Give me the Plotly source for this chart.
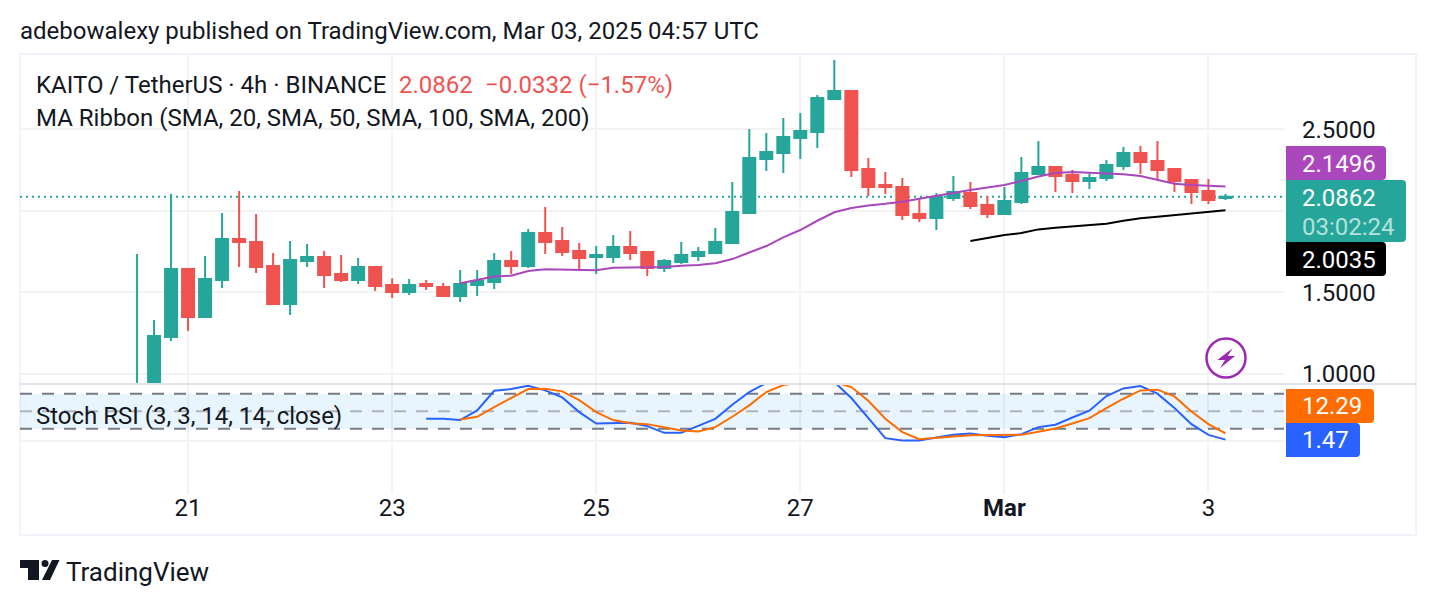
import pandas as pd
import plotly.graph_objects as go

W, H = 1436, 606
ML, MR, MT, MB = 20, 152, 54, 112
FONT = "Roboto"
INK = "#131722"
TEAL = "#26A69A"
RED = "#EF5350"
PURPLE = "#AB47BC"
BLUE = "#2962FF"
ORANGE = "#FF6D00"
GRID = "#F3F3F3"

times = pd.date_range("2025-02-20 12:00", periods=65, freq="4h")
opens = [0.80,0.90,1.226,1.643,1.348,1.575,1.827,1.809,1.661,1.428,1.692,1.717,1.612,1.575,1.655,1.545,1.502,1.551,1.532,1.477,
         1.545,1.563,1.692,1.661,1.864,1.815,1.753,1.717,1.717,1.778,1.747,1.649,1.686,1.722,1.741,1.802,1.987,2.318,2.354,2.447,
         2.484,2.686,2.735,2.256,2.158,2.146,1.980,1.956,2.078,2.109,2.035,1.980,2.054,2.226,2.269,2.220,2.183,2.201,2.275,2.354,
         2.305,2.256,2.189,2.121,2.078]
highs = [1.735,1.330,2.103,1.649,1.722,1.987,2.121,1.980,1.741,1.815,1.796,1.753,1.729,1.710,1.655,1.587,1.581,1.575,1.557,1.637,
         1.637,1.741,1.753,1.888,2.023,1.900,1.802,1.784,1.851,1.876,1.753,1.704,1.809,1.778,1.894,2.177,2.502,2.477,2.569,2.600,
         2.711,2.925,2.741,2.324,2.238,2.201,2.078,2.109,2.213,2.177,2.091,2.146,2.330,2.428,2.275,2.250,2.232,2.312,2.392,2.398,
         2.428,2.256,2.195,2.195,2.103]
lows = [0.75,0.85,1.201,1.262,1.342,1.526,1.655,1.618,1.422,1.361,1.655,1.526,1.563,1.551,1.508,1.465,1.483,1.514,1.471,1.440,
        1.477,1.520,1.612,1.649,1.735,1.722,1.637,1.612,1.680,1.698,1.600,1.624,1.673,1.692,1.741,1.796,1.987,2.244,2.232,2.318,
        2.385,2.686,2.207,2.091,2.103,1.943,1.931,1.882,2.060,2.011,1.956,1.974,2.042,2.220,2.115,2.109,2.134,2.183,2.250,2.226,
        2.189,2.115,2.042,2.042,2.066]
closes = [0.90,1.232,1.643,1.348,1.582,1.827,1.809,1.655,1.428,1.698,1.717,1.606,1.575,1.655,1.538,1.502,1.545,1.538,1.477,1.551,
          1.569,1.692,1.661,1.864,1.809,1.747,1.710,1.729,1.778,1.741,1.649,1.692,1.729,1.747,1.809,1.993,2.324,2.361,2.453,2.490,
          2.692,2.735,2.250,2.146,2.146,1.974,1.956,2.084,2.115,2.029,1.980,2.060,2.232,2.269,2.214,2.183,2.201,2.281,2.354,2.299,
          2.250,2.183,2.115,2.066,2.0862]
sma20 = [1.555,1.578,1.597,1.602,1.631,1.641,1.639,1.633,1.635,1.651,1.653,1.651,1.655,1.663,1.667,1.678,1.704,1.744,1.784,1.837,
         1.882,1.939,1.991,2.017,2.033,2.043,2.056,2.074,2.092,2.113,2.127,2.143,2.158,2.183,2.211,2.232,2.238,2.233,2.227,2.224,
         2.213,2.191,2.166,2.158,2.156,2.1496]
sma50 = [1.815,1.835,1.851,1.864,1.886,1.896,1.905,1.913,1.921,1.939,1.954,1.964,1.974,1.984,1.994,2.0035]
stoch_k = [37.1,37.1,34.9,51.4,85.1,88,93.7,85.7,73.7,48.6,29.1,29.7,30.3,24.6,13.1,13.1,24.6,37.1,61.1,82.9,98.3,100,100,100,100,
           72.6,38.3,4,0,0,5.1,9.7,12,8,5.7,10.9,22.9,26.9,39.4,50.9,76,89.1,93.1,80,55.4,28,9.7,1.47]
stoch_d = [36,40.6,57.2,72.6,88,88.6,84,69.1,48.6,34.9,29.7,28,22.3,17.1,15.4,22.9,40.6,60,82.9,94.9,99,100,100,
           91.4,68,37.1,14.3,2.3,4,6.9,9.1,9.1,8.6,9.7,14.9,20.6,29.1,38.3,55.4,71.4,85.7,86.9,75.4,49.7,28,12.29]
price_ticks = [1.0, 1.5, 2.0, 2.5]
price_tick_text = ["1.0000", "1.5000", "2.0000", "2.5000"]
day_ticks = ["2025-02-21", "2025-02-23", "2025-02-25", "2025-02-27", "2025-03-01", "2025-03-03"]
day_tick_text = ["21", "23", "25", "27", "<b>Mar</b>", "3"]
last_price = 2.0862
stoch_levels = [80, 50, 20]
x_range = ["2025-02-19 08:28", "2025-03-03 17:46"]


def px(x):
    return (x - ML) / (W - ML - MR)


def py(y):
    return 1 - (y - MT) / (H - MT - MB)


def poly(points, close=True):
    d = "M" + " L".join(f"{px(a):.5f},{py(b):.5f}" for a, b in points)
    return d + (" Z" if close else "")


def badge(x0, y0, x1, y1, r=4):
    return (f"M{px(x0):.5f},{py(y0):.5f} L{px(x1-r):.5f},{py(y0):.5f} "
            f"Q{px(x1):.5f},{py(y0):.5f} {px(x1):.5f},{py(y0+r):.5f} "
            f"L{px(x1):.5f},{py(y1-r):.5f} Q{px(x1):.5f},{py(y1):.5f} {px(x1-r):.5f},{py(y1):.5f} "
            f"L{px(x0):.5f},{py(y1):.5f} Z")


fig = go.Figure()
fig.add_trace(go.Candlestick(
    x=times, open=opens, high=highs, low=lows, close=closes,
    increasing=dict(line=dict(color=TEAL, width=2), fillcolor=TEAL),
    decreasing=dict(line=dict(color=RED, width=2), fillcolor=RED),
    whiskerwidth=0, xaxis="x", yaxis="y", showlegend=False,
))
fig.add_trace(go.Scatter(x=times[-len(sma20):], y=sma20, mode="lines",
                         line=dict(color=PURPLE, width=2), xaxis="x", yaxis="y"))
fig.add_trace(go.Scatter(x=times[-len(sma50):], y=sma50, mode="lines",
                         line=dict(color="#000000", width=2), xaxis="x", yaxis="y"))
fig.add_trace(go.Scatter(x=times[-len(stoch_k):], y=stoch_k, mode="lines",
                         line=dict(color=BLUE, width=2), xaxis="x2", yaxis="y2"))
fig.add_trace(go.Scatter(x=times[-len(stoch_d):], y=stoch_d, mode="lines",
                         line=dict(color=ORANGE, width=2), xaxis="x2", yaxis="y2"))

shapes = [
    dict(type="rect", xref="paper", yref="paper", x0=px(20), x1=px(1416), y0=py(54), y1=py(535),
         line=dict(color="#F0F3FA", width=2), layer="below"),
    dict(type="rect", xref="x2", yref="y2", x0=x_range[0], x1=x_range[1], y0=stoch_levels[2], y1=stoch_levels[0],
         fillcolor="rgba(33,150,243,0.1)", line=dict(width=0), layer="between"),
    dict(type="line", xref="x", yref="y", x0=x_range[0], x1=x_range[1], y0=last_price, y1=last_price,
         line=dict(color=TEAL, width=2, dash="2px,4px"), layer="between"),
    dict(type="line", xref="paper", yref="paper", x0=px(20), x1=px(1416), y0=py(384), y1=py(384),
         line=dict(color="#E0E3EB", width=2), layer="above"),
]
for level, color in zip(stoch_levels, ["#787B86", "#B0B3BC", "#787B86"]):
    shapes.append(dict(type="line", xref="x2", yref="y2", x0=x_range[0], x1=x_range[1], y0=level, y1=level,
                       line=dict(color=color, width=2, dash="12px,10px"), layer="between"))
# price badges
for (x0, y0, x1, y1), color in [((1286, 146, 1386, 180), PURPLE), ((1286, 180, 1406, 242), TEAL),
                                ((1286, 242, 1386, 276), "#000000"), ((1286, 389, 1374, 423), ORANGE),
                                ((1286, 423, 1360, 457), BLUE)]:
    shapes.append(dict(type="path", xref="paper", yref="paper", path=badge(x0, y0, x1, y1),
                       fillcolor=color, line=dict(width=0), layer="above"))
# lightning icon
shapes.append(dict(type="circle", xref="paper", yref="paper", x0=px(1206.5), x1=px(1245.5), y0=py(377.5), y1=py(338.5),
                   line=dict(color="#9C27B0", width=2.5), layer="above"))
shapes.append(dict(type="path", xref="paper", yref="paper", line=dict(width=0), fillcolor="#9C27B0", layer="above",
                   path=poly([(1232.7, 348.3), (1217.3, 360), (1225, 360), (1220, 368.3), (1235, 356), (1227.7, 356)])))
# TradingView logo
shapes.append(dict(type="path", xref="paper", yref="paper", line=dict(width=0), fillcolor=INK, layer="above",
                   path=poly([(20, 560), (39, 560), (39, 580), (28, 580), (28, 568), (20, 568)])))
shapes.append(dict(type="path", xref="paper", yref="paper", line=dict(width=0), fillcolor=INK, layer="above",
                   path=poly([(52, 560), (59.5, 560), (50, 580), (42, 580)])))
shapes.append(dict(type="circle", xref="paper", yref="paper", x0=px(41.5), x1=px(48.5), y0=py(567), y1=py(560),
                   fillcolor=INK, line=dict(width=0), layer="above"))

texts = [
    ("adebowalexy published on TradingView.com, Mar 03, 2025 04:57 UTC", 19, 31, INK, 24),
    ("KAITO / TetherUS · 4h · BINANCE", 35, 85, INK, 24),
    ("2.0862", 398, 85, RED, 24),
    ("−0.0332 (−1.57%)", 484, 85, RED, 24),
    ("MA Ribbon (SMA, 20, SMA, 50, SMA, 100, SMA, 200)", 35, 118, INK, 24),
    ("Stoch RSI (3, 3, 14, 14, close)", 35, 416, INK, 24),
    ("2.1496", 1301, 164, "#FFFFFF", 24),
    ("2.0862", 1301, 197.5, "#FFFFFF", 24),
    ("03:02:24", 1301, 226.5, "#B5E0DC", 24),
    ("2.0035", 1301, 260, "#FFFFFF", 24),
    ("12.29", 1301, 406, "#FFFFFF", 24),
    ("1.47", 1301, 440, "#FFFFFF", 24),
    ("TradingView", 65, 572, INK, 26),
]
annotations = [dict(text=t, x=px(x), y=py(y), xref="paper", yref="paper", xanchor="left", yanchor="middle",
                    showarrow=False, borderpad=0, align="left", font=dict(family=FONT, size=s, color=c))
               for t, x, y, c, s in texts]

fig.update_layout(
    width=W, height=H, margin=dict(l=ML, r=MR, t=MT, b=MB, pad=0),
    paper_bgcolor="#FFFFFF", plot_bgcolor="#FFFFFF", showlegend=False, boxgap=0.294, boxgroupgap=0,
    font=dict(family=FONT, size=24, color=INK), shapes=shapes, annotations=annotations,
    xaxis=dict(domain=[0, 1], anchor="y", range=x_range, type="date", rangeslider=dict(visible=False),
               tickvals=day_ticks, ticktext=[""] * len(day_ticks), showticklabels=False,
               showgrid=True, gridcolor=GRID, gridwidth=2, zeroline=False, showline=False, ticks=""),
    xaxis2=dict(domain=[0, 1], anchor="y2", range=x_range, type="date", matches="x",
                tickvals=day_ticks, ticktext=day_tick_text, tickfont=dict(family=FONT, size=24, color=INK),
                showgrid=True, gridcolor=GRID, gridwidth=2, zeroline=False, showline=False, ticks="",
                ticklabelstandoff=-3),
    yaxis=dict(domain=[0.25, 1], anchor="x", side="right", range=[0.9375, 2.962],
               tickvals=price_ticks, ticktext=price_tick_text, tickfont=dict(family=FONT, size=24, color=INK),
               showgrid=True, gridcolor=GRID, gridwidth=2, zeroline=False, showline=False, ticks="",
               ticklabelstandoff=17),
    yaxis2=dict(domain=[0, 0.25], anchor="x2", side="right", range=[-91.4, 96.6], tickvals=[0],
                showticklabels=False, showgrid=True, gridcolor=GRID, gridwidth=2, zeroline=False,
                showline=False, ticks=""),
)
fig.write_html("out.html", config=dict(displayModeBar=False),
               post_script="document.body.style.margin='0';document.body.style.overflow='hidden';")
